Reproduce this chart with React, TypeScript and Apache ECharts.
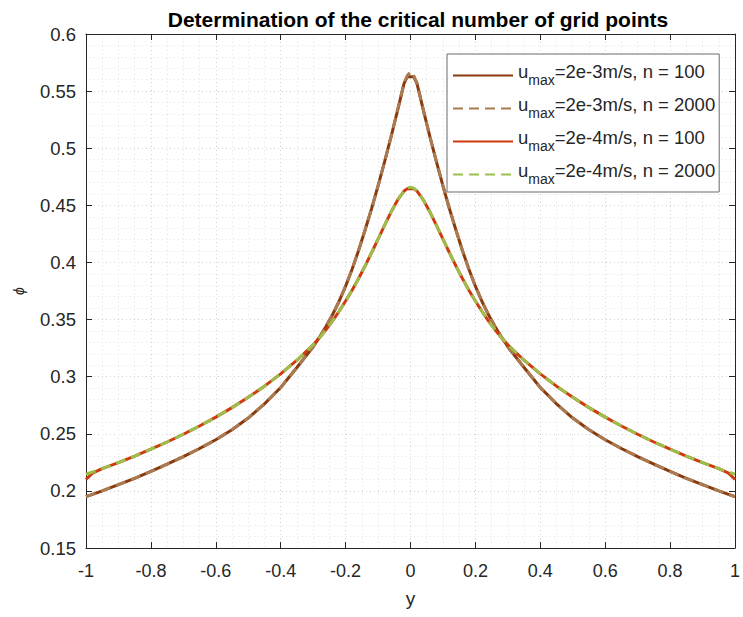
import React, { useEffect, useRef } from "react";
import * as echarts from "echarts";

// Half profile abscissae (profiles are symmetric about y = 0)
const Y_HALF = [0, 0.01, 0.02, 0.04, 0.06, 0.08, 0.1, 0.12, 0.14, 0.16, 0.18, 0.2, 0.22, 0.24, 0.26, 0.28, 0.3, 0.35, 0.4, 0.45, 0.5, 0.55, 0.6, 0.65, 0.7, 0.75, 0.8, 0.85, 0.9, 0.95, 0.98, 1.0];

// u_max = 2e-3 m/s, n = 2000
const PHI_3_FINE = [0.567, 0.5635, 0.557, 0.533, 0.51, 0.488, 0.467, 0.447, 0.4284, 0.4104, 0.394, 0.3792, 0.366, 0.3544, 0.3442, 0.3348, 0.3262, 0.308, 0.2905, 0.2762, 0.2638, 0.2536, 0.2448, 0.2371, 0.23, 0.2234, 0.217, 0.211, 0.2055, 0.2, 0.197, 0.195];
// u_max = 2e-3 m/s, n = 100 (no node at y = 0)
const PHI_3_COARSE = [0.5625, 0.5565, 0.533, 0.51, 0.488, 0.467, 0.447, 0.4284, 0.4104, 0.394, 0.3792, 0.366, 0.3544, 0.3442, 0.3348, 0.3262, 0.308, 0.2905, 0.2762, 0.2638, 0.2536, 0.2448, 0.2371, 0.23, 0.2234, 0.217, 0.211, 0.2055, 0.2, 0.197, 0.195];
// u_max = 2e-4 m/s, n = 2000
const PHI_4_FINE = [0.466, 0.465, 0.4625, 0.4545, 0.4441, 0.4325, 0.4205, 0.4085, 0.3969, 0.3859, 0.3757, 0.3663, 0.3573, 0.3489, 0.3413, 0.3343, 0.3279, 0.3144, 0.3024, 0.2917, 0.2819, 0.2729, 0.2646, 0.2568, 0.2496, 0.2428, 0.2365, 0.2305, 0.2248, 0.2195, 0.2165, 0.2146];
// u_max = 2e-4 m/s, n = 100
const PHI_4_COARSE = [0.4645, 0.4625, 0.4545, 0.4441, 0.4325, 0.4205, 0.4085, 0.3969, 0.3859, 0.3757, 0.3663, 0.3573, 0.3489, 0.3413, 0.3343, 0.3279, 0.3144, 0.3024, 0.2917, 0.2819, 0.2729, 0.2646, 0.2568, 0.2496, 0.2428, 0.2365, 0.2305, 0.2248, 0.2195, 0.2155, 0.21];

const SERIES_NAMES = [
  "umax=2e-3m/s, n = 100",
  "umax=2e-3m/s, n = 2000",
  "umax=2e-4m/s, n = 100",
  "umax=2e-4m/s, n = 2000",
];
const SERIES_COLORS = ["#8a3a0c", "#a97b52", "#cf3b0e", "#9cbf4c"];

const FONT = "'Liberation Sans', Arial, Helvetica, sans-serif";
const INK = "#262626";

function symmetric(xs: number[], vals: number[]): number[][] {
  const right = xs.map((x, i) => [x, vals[i]]);
  const left = right
    .filter((p) => p[0] !== 0)
    .map((p) => [-p[0], p[1]])
    .reverse();
  return [...left, ...right];
}

export default function App() {
  const ref = useRef<HTMLDivElement>(null);

  useEffect(() => {
    if (!ref.current) return;
    const chart = echarts.init(ref.current, undefined, { renderer: "svg" });

    const coarseY = Y_HALF.slice(1);
    const datasets = [
      symmetric(coarseY, PHI_3_COARSE),
      symmetric(Y_HALF, PHI_3_FINE),
      symmetric(coarseY, PHI_4_COARSE),
      symmetric(Y_HALF, PHI_4_FINE),
    ];

    const gridLine = { color: "#d2d2d2", type: [1, 3] as number[], width: 1 };
    const minorLine = { color: "#e2e2e2", type: [1, 3] as number[], width: 1 };

    const sideAxisCommon = {
      axisLine: { show: true, onZero: false, lineStyle: { color: INK, width: 1 } },
      axisTick: { show: true, inside: true, length: 6, lineStyle: { color: INK } },
      axisLabel: { show: false },
      splitLine: { show: false },
    };

    const tickFormatter = (v: number) => String(+v.toFixed(2));

    chart.setOption({
      animation: false,
      backgroundColor: "#ffffff",
      title: {
        text: "Determination of the critical number of grid points",
        left: 413,
        top: 4,
        textAlign: "center",
        textStyle: { fontFamily: FONT, fontSize: 21, fontWeight: "bold", color: "#000" },
      },
      grid: { left: 86, right: 6, top: 34, bottom: 69 },
      legend: {
        orient: "vertical",
        left: 447,
        top: 54,
        padding: [8, 4, 6, 5],
        itemGap: 8,
        itemWidth: 60,
        itemHeight: 14,
        backgroundColor: "#ffffff",
        borderColor: "#6b6b6b",
        borderWidth: 1,
        itemStyle: { opacity: 0, borderWidth: 0 },
        data: SERIES_NAMES,
        formatter: (name: string) => `{u|u}{s|max}{u|${name.slice(4)}}`,
        textStyle: {
          fontFamily: FONT,
          color: INK,
          rich: {
            u: { fontFamily: FONT, fontSize: 18.5, color: INK, lineHeight: 23, verticalAlign: "bottom", padding: [0, 0, 6, 0] },
            s: { fontFamily: FONT, fontSize: 14, color: INK, lineHeight: 23, verticalAlign: "bottom" },
          },
        },
      },
      xAxis: [
        {
          type: "value",
          min: -1,
          max: 1,
          interval: 0.2,
          name: "y",
          nameLocation: "middle",
          nameGap: 41,
          nameTextStyle: { fontFamily: FONT, fontSize: 19, color: INK },
          axisLine: { show: true, onZero: false, lineStyle: { color: INK, width: 1 } },
          axisTick: { show: true, inside: true, length: 6, lineStyle: { color: INK } },
          axisLabel: { fontFamily: FONT, fontSize: 18, color: INK, margin: 14, formatter: tickFormatter },
          splitLine: { show: true, lineStyle: gridLine },
          minorTick: { show: false, splitNumber: 4 },
          minorSplitLine: { show: true, lineStyle: minorLine },
        },
        { type: "value", min: -1, max: 1, interval: 0.2, position: "top", ...sideAxisCommon },
      ],
      yAxis: [
        {
          type: "value",
          min: 0.15,
          max: 0.6,
          interval: 0.05,
          name: "ϕ",
          nameLocation: "middle",
          nameGap: 60,
          nameRotate: 90,
          nameTextStyle: { fontFamily: FONT, fontSize: 14, fontStyle: "italic", color: INK },
          axisLine: { show: true, onZero: false, lineStyle: { color: INK, width: 1 } },
          axisTick: { show: true, inside: true, length: 6, lineStyle: { color: INK } },
          axisLabel: { fontFamily: FONT, fontSize: 18.5, color: INK, margin: 10, formatter: tickFormatter },
          splitLine: { show: true, lineStyle: gridLine },
          minorTick: { show: false, splitNumber: 5 },
          minorSplitLine: { show: true, lineStyle: minorLine },
        },
        { type: "value", min: 0.15, max: 0.6, interval: 0.05, position: "right", ...sideAxisCommon },
      ],
      series: datasets.map((data, i) => ({
        type: "line",
        name: SERIES_NAMES[i],
        data,
        showSymbol: false,
        symbol: "none",
        smooth: false,
        color: SERIES_COLORS[i],
        lineStyle: {
          color: SERIES_COLORS[i],
          width: 3,
          type: i % 2 === 1 ? [10, 6] : "solid",
        },
        z: 2 + i,
      })),
    });

    return () => chart.dispose();
  }, []);

  return (
    <div
      ref={ref}
      style={{ position: "absolute", left: 0, top: 0, width: 743, height: 617, background: "#fff" }}
    />
  );
}
